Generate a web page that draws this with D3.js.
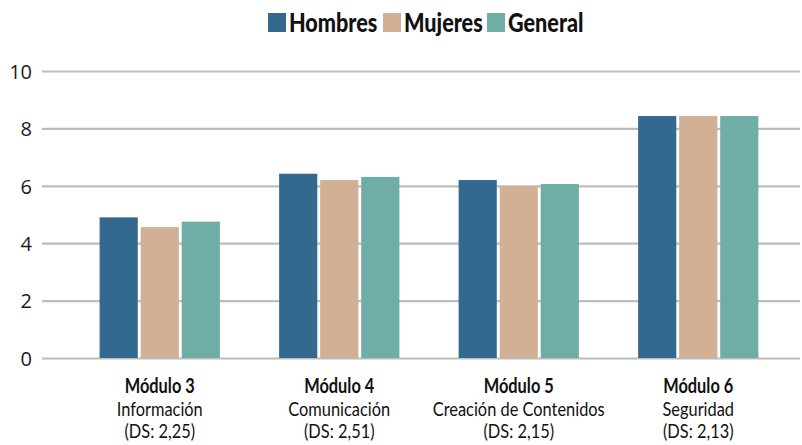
<!DOCTYPE html>
<html>
<head>
<meta charset="utf-8">
<script src="https://cdn.jsdelivr.net/npm/d3@7"></script>
<style>
  body { margin: 0; background: #fff; }
  svg { display: block; }
  .cond { font-family: Lato, "Noto Sans", sans-serif; }
</style>
</head>
<body>
<svg width="802" height="445"></svg>
<script>
// Data
const modules = ["Módulo 3", "Módulo 4", "Módulo 5", "Módulo 6"];
const subtitles = ["Información", "Comunicación", "Creación de Contenidos", "Seguridad"];
const deviations = ["(DS: 2,25)", "(DS: 2,51)", "(DS: 2,15)", "(DS: 2,13)"];
const series = ["Hombres", "Mujeres", "General"];
const hombres = [4.9, 6.42, 6.2, 8.43];
const mujeres = [4.56, 6.2, 5.99, 8.43];
const general = [4.75, 6.31, 6.06, 8.43];
const yTicks = [0, 2, 4, 6, 8, 10];
const colors = ["#33698f", "#d2b095", "#6faea6"];

const values = [hombres, mujeres, general];

const svg = d3.select("svg");

// horizontal squeeze to imitate the condensed face of the original
const squeeze = 0.82;

// Scales
const x0 = d3.scaleBand()
    .domain(modules)
    .range([70, 788])
    .paddingInner(0.33)
    .paddingOuter(0.165);

const x1 = d3.scaleBand()
    .domain(series)
    .range([0, x0.bandwidth()])
    .paddingInner(0.07);

const y = d3.scaleLinear()
    .domain([0, 10])
    .range([358, 71]);

const color = d3.scaleOrdinal().domain(series).range(colors);

// Gridlines + y labels
const yAxis = svg.append("g")
    .attr("transform", "translate(42,0)")
    .call(d3.axisLeft(y).tickValues(yTicks).tickSize(-758).tickPadding(10));
yAxis.select(".domain").remove();
yAxis.selectAll(".tick line")
    .attr("stroke", "#bcbcbc")
    .attr("stroke-width", 2.2);
yAxis.selectAll(".tick text")
    .attr("fill", "#1a1a1a")
    .attr("dy", "0.36em")
    .style("font-family", "'Open Sans', sans-serif")
    .style("font-size", "20px");

// Bars
const groups = svg.append("g")
  .selectAll("g")
  .data(modules)
  .enter()
  .append("g")
    .attr("transform", d => `translate(${x0(d)},0)`);

groups.selectAll("rect")
  .data((d, i) => series.map((s, j) => ({ key: s, value: values[j][i] })))
  .enter()
  .append("rect")
    .attr("x", d => x1(d.key))
    .attr("y", d => y(d.value))
    .attr("width", x1.bandwidth())
    .attr("height", d => y(0) - y(d.value))
    .attr("fill", d => color(d.key));

// X labels (three lines)
const labels = svg.append("g")
  .selectAll("g")
  .data(modules)
  .enter()
  .append("g")
    .attr("transform", d => `translate(${x0(d) + x0.bandwidth() / 2},0) scale(${squeeze},1)`)
  .append("text")
    .attr("class", "cond")
    .attr("text-anchor", "middle")
    .attr("x", 0)
    .attr("y", 393)
    .style("font-size", "20px")
    .attr("fill", "#111");

labels.append("tspan")
    .style("font-weight", "bold")
    .text(d => d);
labels.append("tspan")
    .attr("x", 0)
    .attr("dy", 23)
    .text((d, i) => subtitles[i]);
labels.append("tspan")
    .attr("x", 0)
    .attr("dy", 22.5)
    .text((d, i) => deviations[i]);

// Legend
const legendX = [268, 383, 487];
const legend = svg.append("g");
series.forEach((s, i) => {
    legend.append("rect")
        .attr("x", legendX[i])
        .attr("y", 13)
        .attr("width", 18)
        .attr("height", 19)
        .attr("fill", color(s));
    legend.append("text")
        .attr("class", "cond")
        .attr("transform", `translate(${legendX[i] + 21},32) scale(0.8,1)`)
        .style("font-size", "27px")
        .style("font-weight", "900")
        .attr("fill", "#111")
        .text(s);
});
</script>
</body>
</html>
